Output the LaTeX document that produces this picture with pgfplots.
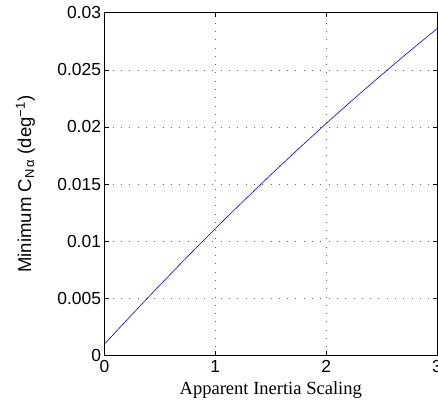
\documentclass[border=0pt]{standalone}
\usepackage{fontspec}
\setmainfont{Liberation Sans}
\newfontfamily\timesfont{Liberation Serif}
\usepackage{pgfplots}
\pgfplotsset{compat=1.18}

\begin{document}
\begin{tikzpicture}
\useasboundingbox (0bp,0bp) rectangle (438bp,408bp);
\begin{axis}[
  at={(104.5bp,52.5bp)}, anchor=south west,
  scale only axis, width=332.5bp, height=342.8bp,
  xmin=0, xmax=3, ymin=0, ymax=0.03,
  xtick={0,1,2,3},
  ytick={0,0.005,0.01,0.015,0.02,0.025,0.03},
  yticklabels={0,0.005,0.01,0.015,0.02,0.025,0.03},
  scaled y ticks=false,
  /pgf/number format/assume math mode=true,
  tick align=inside,
  major tick length=4bp,
  tick style={black, line width=0.5bp},
  axis line style={black, line width=0.6bp},
  grid=major,
  major grid style={black!60, line width=0.6bp, dash pattern=on 0.8bp off 7.5bp},
  ticklabel style={font=\fontsize{17.5}{20}\selectfont},
  xticklabel style={yshift=-1bp},
  every axis x label/.style={at={(axis description cs:0.5,-0.1006)}, anchor=center},
  every axis y label/.style={at={(axis description cs:-0.2376,0.5)}, anchor=center, rotate=90},
  xlabel={\timesfont\fontsize{18.6}{21}\selectfont Apparent Inertia Scaling},
  ylabel={\fontsize{18.6}{21}\selectfont Minimum C\textsubscript{N\,α} (deg\textsuperscript{−1})},
]
\addplot[blue, line width=0.6bp, smooth] coordinates {
  (0,0.00100) (0.25,0.00361) (0.5,0.00616) (0.75,0.00866) (1,0.01110)
  (1.25,0.01348) (1.5,0.01581) (1.75,0.01808) (2,0.02030)
  (2.25,0.02246) (2.5,0.02456) (2.75,0.02661) (3,0.02860)
};
\end{axis}
\end{tikzpicture}
\end{document}
